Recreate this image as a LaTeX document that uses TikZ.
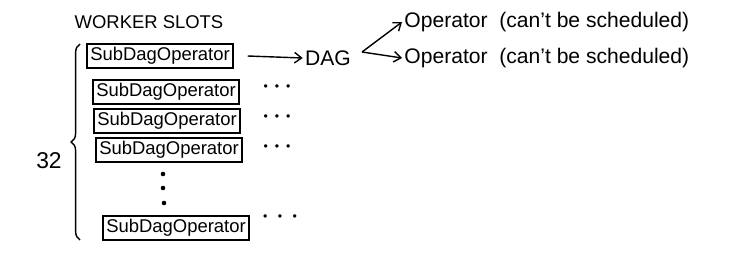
\documentclass[tikz,border=0pt]{standalone}
\usepackage{fontspec}
\setmainfont{Liberation Sans}
\usetikzlibrary{arrows.meta,decorations.pathreplacing}
\newcommand{\threedots}[1]{\textbullet\hspace{#1}\textbullet\hspace{#1}\textbullet}
\begin{document}
\begin{tikzpicture}[x=0.02cm,y=-0.02cm,
  every path/.style={line width=0.8pt},
  slot/.style={draw,line width=0.8pt,minimum width=2.92cm,minimum height=0.48cm,
    inner sep=0pt,font=\fontsize{10.5}{12}\selectfont},
  lbl/.style={font=\fontsize{12}{14}\selectfont,inner sep=1pt},
  more/.style={font=\fontsize{7}{8}\selectfont,inner sep=0pt},
  vdot/.style={circle,fill=black,inner sep=0pt,minimum size=2.6pt},
  arr/.style={-{Straight Barb[length=4pt,width=6pt]},line width=0.8pt}]
\useasboundingbox (0,0) rectangle (750,254);

% heading and count
\node[lbl,font=\fontsize{10.5}{12}\selectfont] (title) at (149,22) {WORKER SLOTS};
\node[font=\fontsize{13}{15}\selectfont] (count) at (49,161) {32};

% worker slots
\node[slot] (w1) at (160,56) {SubDagOperator};
\node[slot] (w2) at (166,92) {SubDagOperator};
\node[slot] (w3) at (167,121) {SubDagOperator};
\node[slot] (w4) at (169,150) {SubDagOperator};
\node[slot] (w5) at (176,228) {SubDagOperator};

% brace spanning all slots
\coordinate (btop) at (80,44);
\coordinate (bbot) at (80,240);
\draw[decorate,decoration={brace,amplitude=5pt,mirror,raise=0pt}]
  (btop) -- (bbot);

% continuation marks
\node[more] (m2) at (277,88) {\threedots{4pt}};
\node[more] (m3) at (277,118) {\threedots{4pt}};
\node[more] (m4) at (277,148) {\threedots{4pt}};
\node[more] (m5) at (280,218) {\threedots{6pt}};
\node[vdot] (d1) at (163,174) {};
\node[vdot] (d2) at (163,188) {};
\node[vdot] (d3) at (164,203) {};

% DAG and its operators
\node[lbl] (dag) at (328,58) {DAG};
\node[lbl,anchor=west] (op1) at (402,22) {Operator\ \ (can't be scheduled)};
\node[lbl,anchor=west] (op2) at (402,58) {Operator\ \ (can't be scheduled)};

\coordinate (fork) at (362,52);
\draw[arr] (w1.east) ++(8pt,0) coordinate (a1) -- (dag.west);
\draw[arr] (fork) -- (op1.west);
\draw[arr] (fork) -- (op2.west);
\end{tikzpicture}
\end{document}
